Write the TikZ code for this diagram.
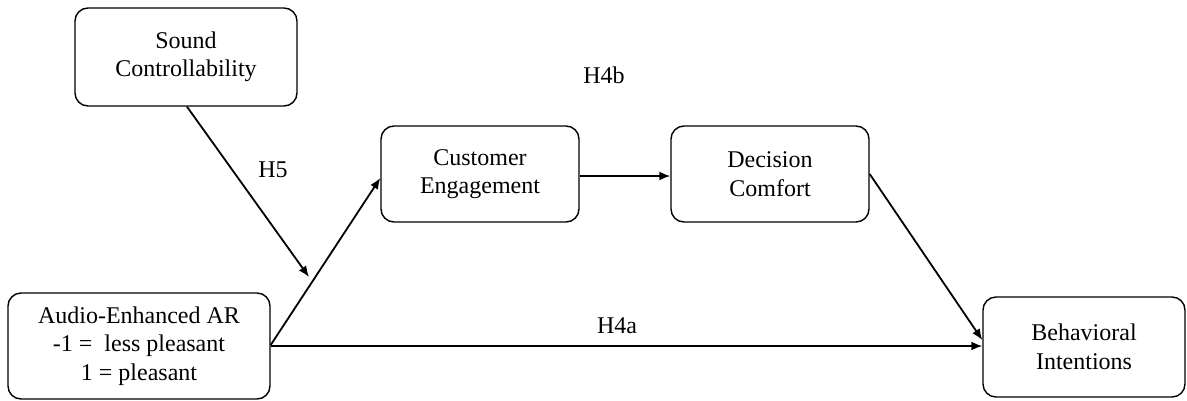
\documentclass[tikz,border=0pt]{standalone}
\usepackage{fontspec}
\setmainfont{Liberation Serif}
\newfontfamily\tnr{Liberation Serif}
\usetikzlibrary{arrows.meta}
\begin{document}
\begin{tikzpicture}[x=1pt,y=-1pt,
  box/.style={draw,line width=1.4pt,rounded corners=13pt,align=center,inner sep=0pt,
    font=\tnr\fontsize{24}{28.5}\selectfont},
  conn/.style={line width=1.8pt,-{Latex[length=11pt,width=9pt]}},
  lab/.style={font=\tnr\fontsize{24}{28.5}\selectfont,inner sep=0pt}]
\useasboundingbox (0,0) rectangle (1187,400);
\node[box,minimum width=222pt,minimum height=98pt] (sc) at (186,57) {Sound\\Controllability};
\node[box,minimum width=262pt,minimum height=106pt] (ar) at (139,346) {Audio-Enhanced AR\\-1 = \ less pleasant\\1 = pleasant};
\node[box,minimum width=198pt,minimum height=96pt] (ce) at (480,174) {Customer\\Engagement};
\node[box,minimum width=198pt,minimum height=96pt] (dc) at (770,174) {Decision\\Comfort};
\node[box,minimum width=202pt,minimum height=100pt] (bi) at (1084,347) {Behavioral\\Intentions};
\coordinate (mod) at (309,277);
\draw[conn] ([yshift=1pt]ar.east) -- ([yshift=-4pt]ce.west);
\draw[conn] (ar.east) -- (ar.east -| bi.west);
\draw[conn] ([yshift=-2pt]ce.east) -- ([yshift=-2pt]dc.west);
\draw[conn] (dc.east) -- ([yshift=7pt]bi.west);
\draw[conn] ([xshift=1pt]sc.south) -- (mod);
\node[lab] (h4b) at (604,75) {H4b};
\node[lab] (h5) at (273,170) {H5};
\node[lab] (h4a) at (617,326) {H4a};
\end{tikzpicture}
\end{document}
